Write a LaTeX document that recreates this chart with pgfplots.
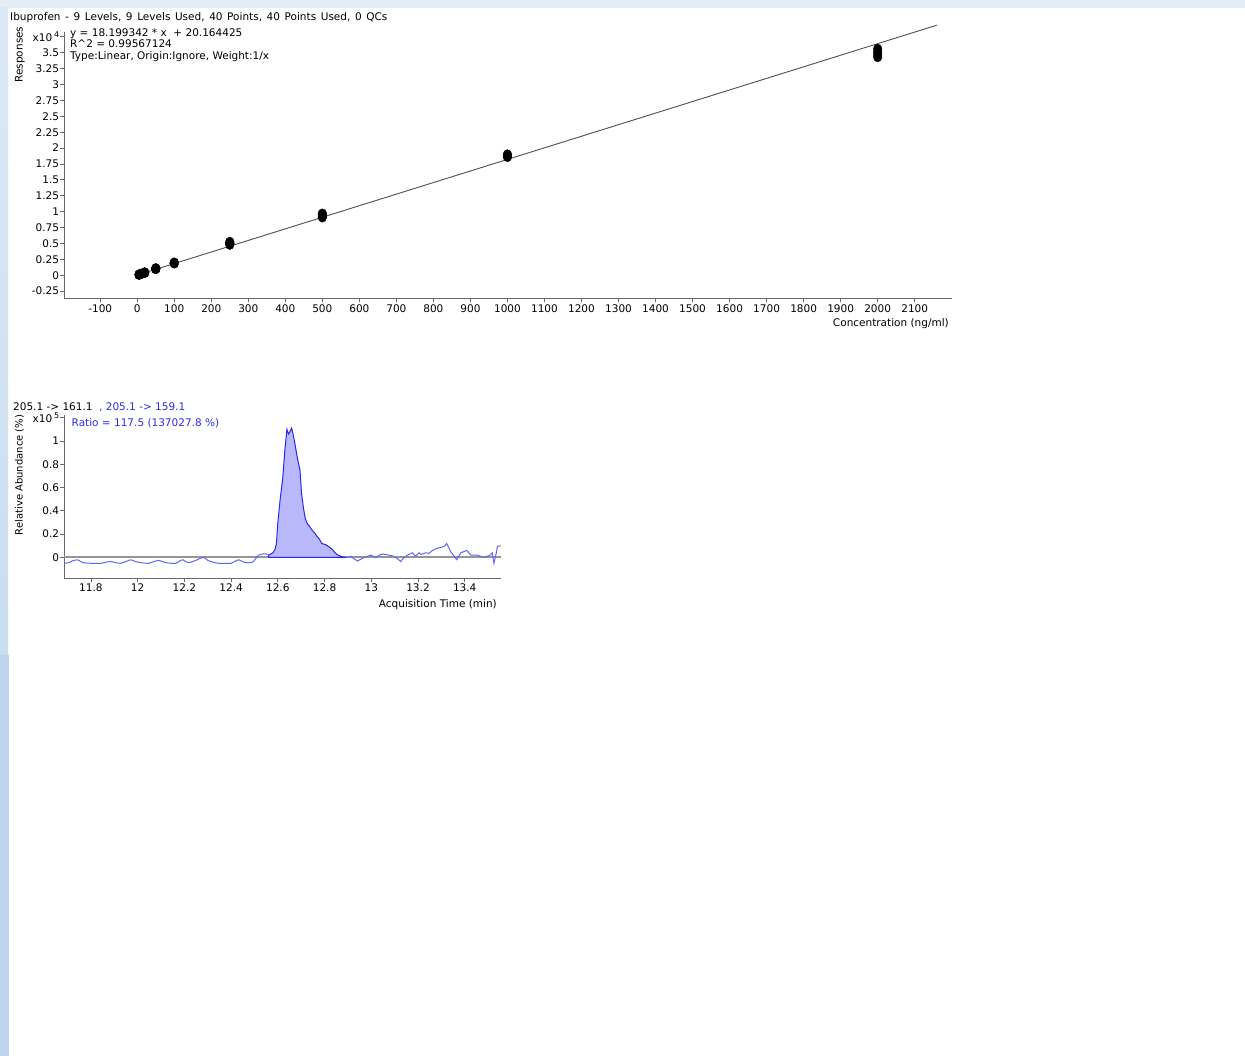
\documentclass[border=0pt]{standalone}
\usepackage{fontspec}
\setmainfont{DejaVu Sans}
\usepackage{pgfplots}
\pgfplotsset{compat=1.18}
\definecolor{axgray}{RGB}{105,105,105}
\definecolor{fitgray}{RGB}{80,80,80}
\definecolor{basegray}{RGB}{150,150,150}
\definecolor{peakblue}{RGB}{40,40,235}
\definecolor{traceblue}{RGB}{100,100,250}
\definecolor{fillblue}{RGB}{184,184,250}
\definecolor{txtblue}{RGB}{45,45,235}
\definecolor{topstrip}{RGB}{228,236,246}
\definecolor{stripA}{RGB}{220,232,245}
\definecolor{stripB}{RGB}{189,214,238}

\pgfplotstableread{
conc resp
5 90
5 100
5 110
5 95
10 200
10 210
10 190
10 225
20 400
20 420
20 380
20 450
20 410
50 1000
50 1050
50 1100
50 980
50 1030
100 1900
100 1950
100 2000
100 1860
250 4800
250 4950
250 5100
250 5250
250 5000
500 9100
500 9300
500 9500
500 9700
500 9600
1000 18600
1000 18750
1000 18900
1000 19000
2000 35600
2000 35100
2000 34700
2000 34300
}\calib

\pgfplotstableread{
t v
11.686 -0.05
11.705 -0.045
11.72 -0.03
11.743 -0.02
11.760 -0.04
11.780 -0.048
11.80 -0.05
11.843 -0.05
11.866 -0.04
11.886 -0.035
11.905 -0.045
11.928 -0.05
11.950 -0.035
11.971 -0.02
11.990 -0.035
12.014 -0.045
12.048 -0.05
12.070 -0.035
12.091 -0.025
12.105 -0.035
12.121 -0.045
12.145 -0.05
12.164 -0.05
12.180 -0.03
12.194 -0.02
12.205 -0.035
12.219 -0.045
12.235 -0.035
12.249 -0.025
12.265 -0.01
12.283 0.0
12.300 -0.025
12.322 -0.04
12.345 -0.05
12.369 -0.05
12.399 -0.05
12.415 -0.035
12.433 -0.02
12.448 -0.035
12.463 -0.045
12.480 -0.045
12.493 -0.04
12.505 -0.01
12.519 0.02
12.535 0.03
12.549 0.03
12.561 0.02
}\pre

\pgfplotstableread{
t v
12.561 0.0
12.561 0.02
12.579 0.04
12.588 0.07
12.594 0.12
12.600 0.30
12.610 0.50
12.621 0.68
12.630 0.92
12.639 1.10
12.646 1.06
12.652 1.08
12.659 1.11
12.665 1.06
12.672 0.99
12.684 0.85
12.695 0.75
12.701 0.56
12.710 0.42
12.718 0.33
12.726 0.29
12.738 0.26
12.748 0.23
12.758 0.21
12.768 0.18
12.777 0.16
12.788 0.12
12.805 0.11
12.820 0.09
12.833 0.07
12.845 0.04
12.858 0.02
12.877 0.005
12.891 0.0
}\peak

\pgfplotstableread{
t v
12.891 0.0
12.904 0.0
12.912 0.01
12.925 -0.01
12.941 -0.03
12.955 -0.015
12.969 0.0
12.985 0.01
12.998 0.02
13.019 0.0
13.035 0.02
13.048 0.03
13.062 0.025
13.076 0.02
13.098 0.01
13.112 -0.01
13.126 -0.035
13.140 0.0
13.155 0.02
13.176 0.04
13.190 0.01
13.204 0.04
13.212 0.025
13.219 0.03
13.233 0.04
13.247 0.035
13.262 0.06
13.283 0.08
13.305 0.09
13.315 0.1
13.323 0.12
13.340 0.05
13.355 0.01
13.366 -0.02
13.383 0.04
13.409 0.06
13.426 0.02
13.454 0.02
13.483 0.0
13.508 0.02
13.518 0.04
13.525 -0.05
13.533 0.02
13.540 0.095
13.554 0.1
}\post

\begin{document}
\fontsize{10.5}{12.5}\selectfont
\begin{tikzpicture}
% background
\fill[white] (0pt,0pt) rectangle (1245pt,-1056pt);
\fill[topstrip] (0pt,0pt) rectangle (1245pt,-8pt);
\shade[top color=stripA, bottom color=stripB!60!stripA] (0pt,-8pt) rectangle (8pt,-655pt);
\fill[stripB] (0pt,-655pt) rectangle (9pt,-1056pt);

\pgfplotsset{
  myaxis/.style={
    scale only axis, anchor=south west, clip=false,
    axis x line*=bottom, axis y line*=left,
    axis line style={axgray, line width=1pt},
    every tick/.style={axgray, line width=0.8pt},
    tick align=outside, major tick length=4pt,
    scaled x ticks=false, scaled y ticks=false,
    tick label style={font=\fontsize{10.5}{12.5}\selectfont, text=black},
    xticklabel style={inner sep=1pt},
    yticklabel style={inner sep=1pt},
  }
}

% ---------- calibration curve ----------
\begin{axis}[myaxis,
  at={(64.3pt,-298.3pt)}, width=887.4pt, height=266.6pt,
  xmin=-197, xmax=2200, ymin=-3620, ymax=38300,
  xticklabel style={yshift=-1.5pt},
  xtick={-100,0,100,200,300,400,500,600,700,800,900,1000,1100,1200,1300,1400,1500,1600,1700,1800,1900,2000,2100},
  xticklabels={-100,0,100,200,300,400,500,600,700,800,900,1000,1100,1200,1300,1400,1500,1600,1700,1800,1900,2000,2100},
  ytick={-2500,0,2500,5000,7500,10000,12500,15000,17500,20000,22500,25000,27500,30000,32500,35000,37500},
  yticklabels={-0.25,0,0.25,0.5,0.75,1,1.25,1.5,1.75,2,2.25,2.5,2.75,3,3.25,3.5,{x10\,\raisebox{4pt}{\fontsize{8}{8}\selectfont 4}}},
]
\addplot[no marks, color=fitgray, line width=0.9pt] coordinates {(0,20.164425) (2160,39330.9)};
\addplot[only marks, mark=*, mark size=4.8pt, color=black, mark options={xscale=0.9, fill=black}] table[x=conc, y=resp] {\calib};
\end{axis}

% ---------- chromatogram ----------
\begin{axis}[myaxis,
  at={(64.3pt,-578.3pt)}, width=436.4pt, height=163.3pt,
  xmin=11.686, xmax=13.554, ymin=-0.179, ymax=1.223,
  xtick={11.8,12,12.2,12.4,12.6,12.8,13,13.2,13.4},
  xticklabels={11.8,12,12.2,12.4,12.6,12.8,13,13.2,13.4},
  ytick={0,0.2,0.4,0.6,0.8,1,1.2},
  yticklabels={0,0.2,0.4,0.6,0.8,1,{x10\,\raisebox{4pt}{\fontsize{8}{8}\selectfont 5}}},
]
\addplot[no marks, color=basegray, line width=2pt] coordinates {(11.686,0) (13.554,0)};
\addplot[no marks, fill=fillblue, draw=peakblue, line width=1pt] table[x=t, y=v] {\peak} -- cycle;
\addplot[no marks, color=traceblue, line width=1pt, smooth, tension=0.4] table[x=t, y=v] {\pre};
\addplot[no marks, color=traceblue, line width=1pt] table[x=t, y=v] {\post};
\end{axis}

% ---------- texts ----------
\node[anchor=base west, inner sep=0pt] at (10pt,-20.5pt) {\spaceskip=4.6pt\relax Ibuprofen - 9 Levels, 9 Levels Used, 40 Points, 40 Points Used, 0 QCs};
\node[anchor=base west, inner sep=0pt] at (70pt,-36.5pt) {y = 18.199342 * x\ \ + 20.164425};
\node[anchor=base west, inner sep=0pt] at (70pt,-47.5pt) {R\^{}2 = 0.99567124};
\node[anchor=base west, inner sep=0pt] at (70pt,-59.5pt) {Type:Linear, Origin:Ignore, Weight:1/x};
\node[anchor=base, rotate=90, inner sep=0pt] at (22.5pt,-54.5pt) {Responses};
\node[anchor=base east, inner sep=0pt] at (949pt,-326.5pt) {Concentration (ng/ml)};

\node[anchor=base west, inner sep=0pt] at (13pt,-410pt) {205.1 -> 161.1};
\node[anchor=base west, inner sep=0pt, text=txtblue] at (99pt,-410pt) {, 205.1 -> 159.1};
\node[anchor=base west, inner sep=0pt, text=txtblue] at (71.5pt,-427pt) {Ratio = 117.5 (137027.8 \%)};
\node[anchor=base, rotate=90, inner sep=0pt] at (22.5pt,-475pt) {\fontsize{10}{12}\selectfont Relative Abundance (\%)};
\node[anchor=base east, inner sep=0pt] at (497pt,-607pt) {Acquisition Time (min)};
\end{tikzpicture}
\end{document}
